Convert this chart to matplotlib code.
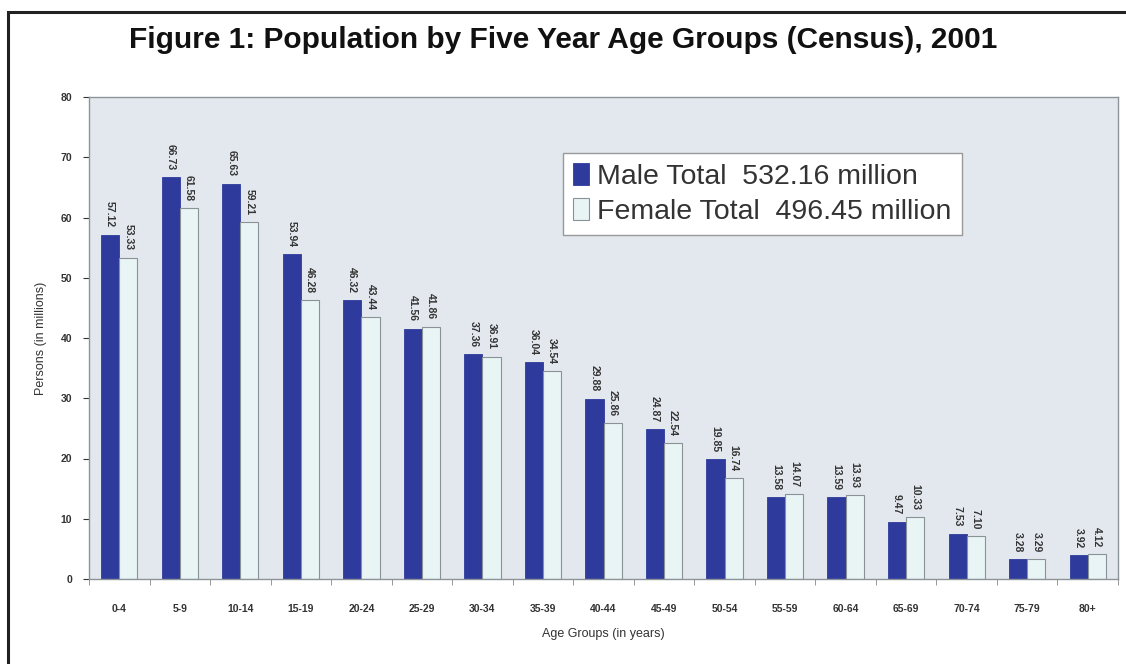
import numpy as np
import matplotlib.pyplot as plt
from matplotlib.patches import Rectangle

plt.rcParams['font.family'] = ['Liberation Sans', 'DejaVu Sans']

# Datos
grupos = ['0-4', '5-9', '10-14', '15-19', '20-24', '25-29', '30-34', '35-39',
          '40-44', '45-49', '50-54', '55-59', '60-64', '65-69', '70-74',
          '75-79', '80+']
hombres = [57.12, 66.73, 65.63, 53.94, 46.32, 41.56, 37.36, 36.04, 29.88,
           24.87, 19.85, 13.58, 13.59, 9.47, 7.53, 3.28, 3.92]
mujeres = [53.33, 61.58, 59.21, 46.28, 43.44, 41.86, 36.91, 34.54, 25.86,
           22.54, 16.74, 14.07, 13.93, 10.33, 7.10, 3.29, 4.12]
etiqueta_h = 'Male Total  532.16 million'
etiqueta_m = 'Female Total  496.45 million'

fig = plt.figure(figsize=(11.26, 6.64), dpi=100)
fig.patch.set_facecolor('white')

# marco exterior
fig.add_artist(Rectangle((8 / 1126, -0.05), 1.2, (664 - 12) / 664 + 0.05,
                         transform=fig.transFigure, fill=False,
                         edgecolor='#222222', linewidth=2.2))

fig.text(0.5, 1 - 40 / 664, 'Figure 1: Population by Five Year Age Groups (Census), 2001',
         ha='center', va='center', fontsize=21.5, fontweight='bold', color='#111111')

ax = fig.add_axes([89 / 1126, 1 - 579 / 664, (1118 - 89) / 1126, (579 - 97) / 664])
ax.set_facecolor('#E2E8EE')

x = np.arange(len(grupos))
w = 0.3
bh = ax.bar(x - w / 2, hombres, w, color='#2E3A9C', edgecolor='#2E3A9C',
            linewidth=0.6, label=etiqueta_h)
bm = ax.bar(x + w / 2, mujeres, w, color='#E8F5F4', edgecolor='#8A9298',
            linewidth=0.8, label=etiqueta_m)

for xi, v in zip(x, hombres):
    ax.text(xi - w / 2, v + 1.2, '%.2f' % v, rotation=-90, ha='center', va='bottom',
            fontsize=7.5, fontweight='bold', color='#333333')
for xi, v in zip(x, mujeres):
    ax.text(xi + w / 2, v + 1.2, '%.2f' % v, rotation=-90, ha='center', va='bottom',
            fontsize=7.5, fontweight='bold', color='#333333')

ax.set_xlim(-0.5, len(grupos) - 0.5)
ax.set_ylim(0, 80)
ax.set_yticks(range(0, 81, 10))
ax.set_xticks(x)
ax.set_xticklabels(grupos, fontsize=7.5, fontweight='bold', color='#333333')
ax.set_xticks(np.arange(-0.5, len(grupos), 1), minor=True)
ax.tick_params(axis='x', which='major', length=0, pad=18)
ax.tick_params(axis='x', which='minor', length=4, color='#888888')
ax.tick_params(axis='y', labelsize=7.5, colors='#333333', length=4, pad=8)
for lab in ax.get_yticklabels():
    lab.set_fontweight('bold')

for s in ax.spines.values():
    s.set_color('#8C949A')
    s.set_linewidth(1.0)

ax.set_xlabel('Age Groups (in years)', fontsize=9, color='#333333', labelpad=10)
ax.set_ylabel('Persons (in millions)', fontsize=9, color='#333333', labelpad=10)

leg = ax.legend(loc='upper left', bbox_to_anchor=((563 - 89) / 1029, (579 - 153) / 482),
                borderaxespad=0, fontsize=20.5, frameon=True, fancybox=False,
                handlelength=0.55, handleheight=0.8, handletextpad=0.3,
                borderpad=0.35, labelspacing=0.3)
leg.get_frame().set_edgecolor('#999999')
leg.get_frame().set_facecolor('white')
leg.get_frame().set_alpha(1)
for t in leg.get_texts():
    t.set_color('#333333')

plt.savefig('out.png', dpi=100)
